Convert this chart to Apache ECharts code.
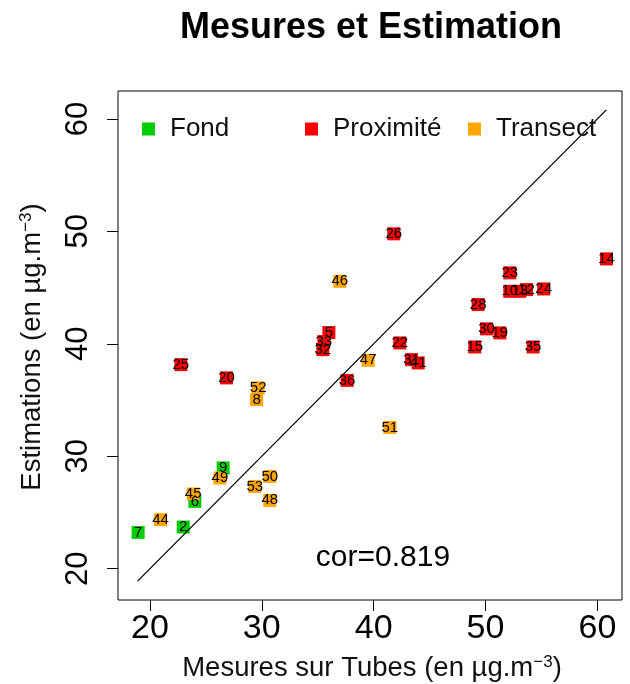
<!DOCTYPE html>
<html>
<head>
<meta charset="utf-8">
<script src="https://cdn.jsdelivr.net/npm/echarts@6/dist/echarts.min.js"></script>
<style>
  html, body { margin: 0; padding: 0; background: #fff; }
  #chart { width: 630px; height: 684px; }
</style>
</head>
<body>
<div id="chart"></div>
<script>
// Tick positions on both axes
const xTicks = [20, 30, 40, 50, 60];
const yTicks = [20, 30, 40, 50, 60];

// Background sites (Fond)
const fondIds   = ['7', '2', '6', '9'];
const fondTubes = [18.95, 22.98, 24.02, 26.55];
const fondEstim = [23.23, 23.71, 25.99, 28.96];

// Roadside sites (Proximité)
const proxIds   = ['25', '20', '5', '33', '32', '36', '26', '22', '31', '41', '15', '28', '30', '19', '23', '10', '13', '12', '24', '35', '14'];
const proxTubes = [22.77, 26.85, 36.0, 35.55, 35.46, 37.63, 41.8, 42.34, 43.39, 43.98, 49.04, 49.34, 50.09, 51.28, 52.17, 52.17, 53.07, 53.66, 55.2, 54.25, 60.81];
const proxEstim = [38.15, 36.97, 41.0, 40.2, 39.48, 36.75, 49.78, 40.08, 38.59, 38.3, 39.72, 43.49, 41.33, 40.97, 46.31, 44.67, 44.67, 44.82, 44.88, 39.72, 47.55];

// Transect sites
const transIds   = ['44', '45', '49', '53', '50', '48', '52', '8', '46', '47', '51'];
const transTubes = [20.96, 23.87, 26.26, 29.38, 30.72, 30.72, 29.68, 29.54, 36.98, 39.51, 41.45];
const transEstim = [24.36, 26.65, 28.07, 27.32, 28.21, 26.08, 36.08, 35.04, 45.56, 38.53, 32.57];

// y = x reference line, drawn over the range of the data
const refLine = [18.9, 60.8];

const corText = 'cor=0.819';

const FONT = '"Liberation Sans", Arial, Helvetica, sans-serif';

function pts(xs, ys, ids) {
  return xs.map((x, i) => [x, ys[i], ids[i]]);
}

function scatterSeries(name, color, data) {
  return {
    name: name,
    type: 'scatter',
    symbol: 'rect',
    symbolSize: 13,
    itemStyle: { color: color, opacity: 1 },
    data: data,
    z: 2,
    label: {
      show: true,
      position: 'inside',
      formatter: p => p.value[2],
      color: '#000',
      fontFamily: FONT,
      fontSize: 15
    },
    emphasis: { disabled: true }
  };
}

function legendAt(left, name) {
  return {
    left: left,
    top: 111,
    data: [name],
    icon: 'rect',
    itemWidth: 13,
    itemHeight: 13,
    selectedMode: false,
    itemStyle: { opacity: 1 },
    textStyle: { fontFamily: FONT, fontSize: 26, color: '#111', padding: [0, 0, 0, 10] }
  };
}

const chart = echarts.init(document.getElementById('chart'), null, { renderer: 'canvas' });

chart.setOption({
  animation: false,
  backgroundColor: '#fff',
  grid: {
    left: 118, right: 8, top: 91, bottom: 84,
    show: true, borderColor: '#000', borderWidth: 1, backgroundColor: 'transparent'
  },
  legend: [
    legendAt(137, 'Fond'),
    legendAt(300, 'Proximité'),
    legendAt(463, 'Transect')
  ],
  xAxis: {
    type: 'value',
    min: 17.15, max: 62.2,
    splitLine: { show: false },
    axisLine: { show: false },
    axisTick: { show: true, length: 11, customValues: xTicks, lineStyle: { color: '#000' } },
    axisLabel: {
      customValues: xTicks, margin: 12,
      fontFamily: FONT, fontSize: 34, color: '#000'
    }
  },
  yAxis: {
    type: 'value',
    min: 17.22, max: 62.48,
    splitLine: { show: false },
    axisLine: { show: false },
    axisTick: { show: true, length: 11, customValues: yTicks, lineStyle: { color: '#000' } },
    axisLabel: {
      customValues: yTicks, rotate: 90, margin: 24,
      fontFamily: FONT, fontSize: 31, color: '#000'
    }
  },
  series: [
    scatterSeries('Fond', '#00cd00', pts(fondTubes, fondEstim, fondIds)),
    scatterSeries('Proximité', '#ff0000', pts(proxTubes, proxEstim, proxIds)),
    scatterSeries('Transect', '#ffa500', pts(transTubes, transEstim, transIds)),
    {
      type: 'line',
      data: [[refLine[0], refLine[0]], [refLine[1], refLine[1]]],
      symbol: 'none',
      lineStyle: { color: '#000', width: 1.3 },
      z: 3,
      silent: true
    }
  ],
  graphic: [
    {
      type: 'text', x: 371, y: 28,
      style: {
        text: 'Mesures et Estimation', fill: '#000',
        font: 'bold 36px ' + FONT, align: 'center', verticalAlign: 'middle'
      }
    },
    {
      type: 'text', x: 372, y: 668,
      style: {
        text: '{a|Mesures sur Tubes (en µg.m}{s|−3}{a|)}',
        align: 'center', verticalAlign: 'middle',
        rich: {
          a: { fontFamily: FONT, fontSize: 27.5, fill: '#111' },
          s: { fontFamily: FONT, fontSize: 17, fill: '#111', verticalAlign: 'top' }
        }
      }
    },
    {
      type: 'text', x: 32, y: 347, rotation: Math.PI / 2,
      style: {
        text: '{a|Estimations (en µg.m}{s|−3}{a|)}',
        align: 'center', verticalAlign: 'middle',
        rich: {
          a: { fontFamily: FONT, fontSize: 27.5, fill: '#111' },
          s: { fontFamily: FONT, fontSize: 17, fill: '#111', verticalAlign: 'top' }
        }
      }
    },
    {
      type: 'text', x: 383, y: 558,
      style: {
        text: corText, fill: '#000',
        font: '30px ' + FONT, align: 'center', verticalAlign: 'middle'
      }
    }
  ]
});
</script>
</body>
</html>
